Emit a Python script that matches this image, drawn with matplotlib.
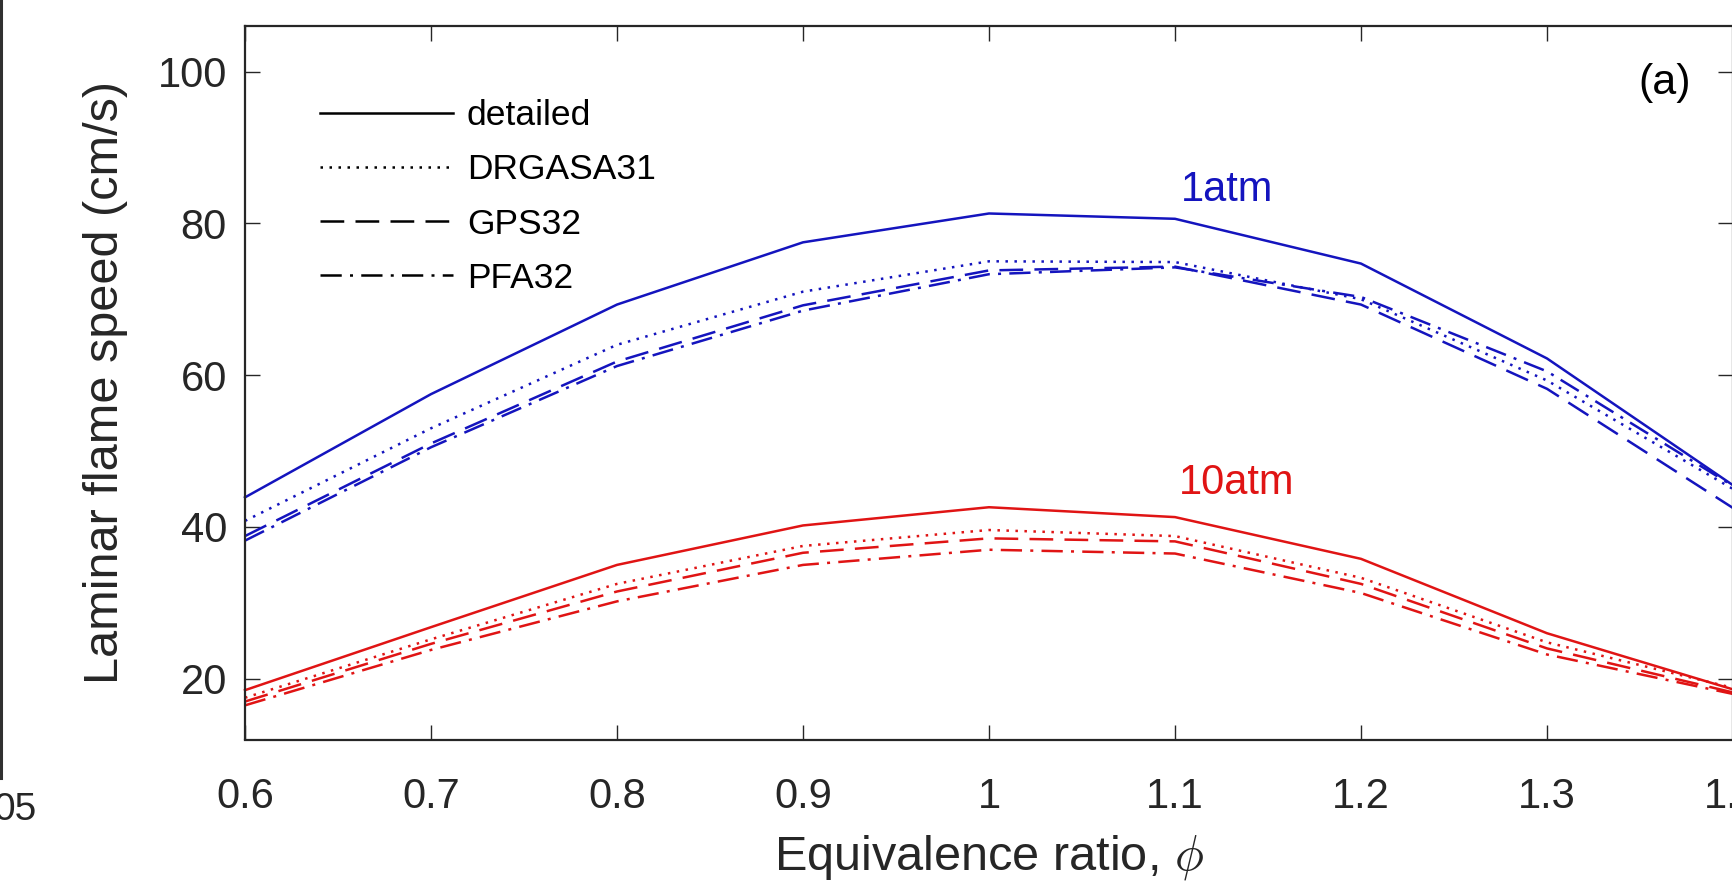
import matplotlib
matplotlib.use('Agg')
import matplotlib.pyplot as plt
from matplotlib.lines import Line2D

plt.rcParams['font.family'] = ['Liberation Sans', 'DejaVu Sans']
plt.rcParams['mathtext.fontset'] = 'cm'

# equivalence ratio
phi = [0.6, 0.7, 0.8, 0.9, 1.0, 1.1, 1.2, 1.3, 1.4]

# laminar flame speed (cm/s), 1 atm
atm1_detailed = [43.9, 57.5, 69.3, 77.5, 81.3, 80.6, 74.7, 62.2, 45.5]
atm1_drgasa31 = [40.8, 53.0, 64.0, 71.0, 75.0, 74.9, 70.0, 59.3, 45.0]
atm1_gps32 = [38.8, 51.0, 61.8, 69.2, 73.8, 74.3, 69.3, 58.2, 42.5]
atm1_pfa32 = [38.2, 50.5, 61.2, 68.5, 73.3, 74.2, 70.3, 60.5, 45.4]

# laminar flame speed (cm/s), 10 atm
atm10_detailed = [18.5, 26.8, 35.0, 40.2, 42.6, 41.3, 35.8, 26.0, 18.6]
atm10_drgasa31 = [17.5, 25.2, 32.5, 37.5, 39.6, 38.8, 33.3, 24.8, 18.8]
atm10_gps32 = [17.0, 24.6, 31.5, 36.6, 38.5, 38.1, 32.5, 24.0, 18.2]
atm10_pfa32 = [16.5, 23.8, 30.2, 35.0, 37.0, 36.5, 31.3, 23.2, 18.0]

labels = ['detailed', 'DRGASA31', 'GPS32', 'PFA32']
xticks = [0.6, 0.7, 0.8, 0.9, 1.0, 1.1, 1.2, 1.3, 1.4]
xticklabels = ['0.6', '0.7', '0.8', '0.9', '1', '1.1', '1.2', '1.3', '1.4']
yticks = [20, 40, 60, 80, 100]

blue = '#1414BE'
red = '#E01414'
styles = ['-', (0, (1, 2.6)), (0, (9.5, 4.5)), (0, (8.5, 3.3, 1.2, 3.3))]
lw = 1.8

fig = plt.figure(figsize=(17.33, 8.93), dpi=100)
ax = fig.add_axes([245/1733, 1 - 739.5/893, 1 - 245/1733, (739.5 - 26)/893])

for series, ls in zip([atm1_detailed, atm1_drgasa31, atm1_gps32, atm1_pfa32], styles):
    ax.plot(phi, series, color=blue, ls=ls, lw=lw, clip_on=False)
for series, ls in zip([atm10_detailed, atm10_drgasa31, atm10_gps32, atm10_pfa32], styles):
    ax.plot(phi, series, color=red, ls=ls, lw=lw, clip_on=False)

ax.set_xlim(0.6, 1.4)
ax.set_ylim(12, 106)
ax.set_xticks(xticks)
ax.set_xticklabels(xticklabels)
ax.set_yticks(yticks)

dark = '#262626'
ax.tick_params(direction='in', length=10.5, width=1.0, colors=dark, labelsize=30,
               top=True, right=True)
ax.tick_params(axis='y', pad=13)
ax.tick_params(axis='x', pad=27)
for sp in ax.spines.values():
    sp.set_color(dark)
    sp.set_linewidth(1.6)

ax.set_xlabel(r'Equivalence ratio, $\phi$', fontsize=35, color=dark)
ax.set_ylabel('Laminar flame speed (cm/s)', fontsize=35, color=dark)
ax.xaxis.set_label_coords(0.5, -(857 - 739.5) / 713.5)
ax.xaxis.label.set_va('center')
ax.yaxis.set_label_coords((106 - 245) / 1488, 0.5)
ax.yaxis.label.set_va('center')

ax.text(1.128, 84.4, '1atm', color=blue, fontsize=30, ha='center', va='center')
ax.text(1.133, 45.8, '10atm', color=red, fontsize=30, ha='center', va='center')
ax.text(1.363, 98.5, '(a)', color='black', fontsize=31, ha='center', va='center')

handles = [Line2D([], [], color='black', ls=ls, lw=lw) for ls in styles]
ax.legend(handles, labels, loc='upper left', bbox_to_anchor=(320/1733, 1 - 99/893),
          bbox_transform=fig.transFigure, frameon=False, fontsize=25.5,
          handlelength=3.75, handletextpad=0.4, labelspacing=0.6,
          borderpad=0, borderaxespad=0)

# remnant of the neighbouring panel at the left edge
fig.add_artist(Line2D([1.5/1733, 1.5/1733], [1, 1 - 778/893], transform=fig.transFigure,
                      color='#303030', lw=2.2))
fig.text(37/1733, 1 - 810/893, '05', fontsize=28, color=dark, ha='right', va='center')

fig.savefig('out.png', dpi=100)
